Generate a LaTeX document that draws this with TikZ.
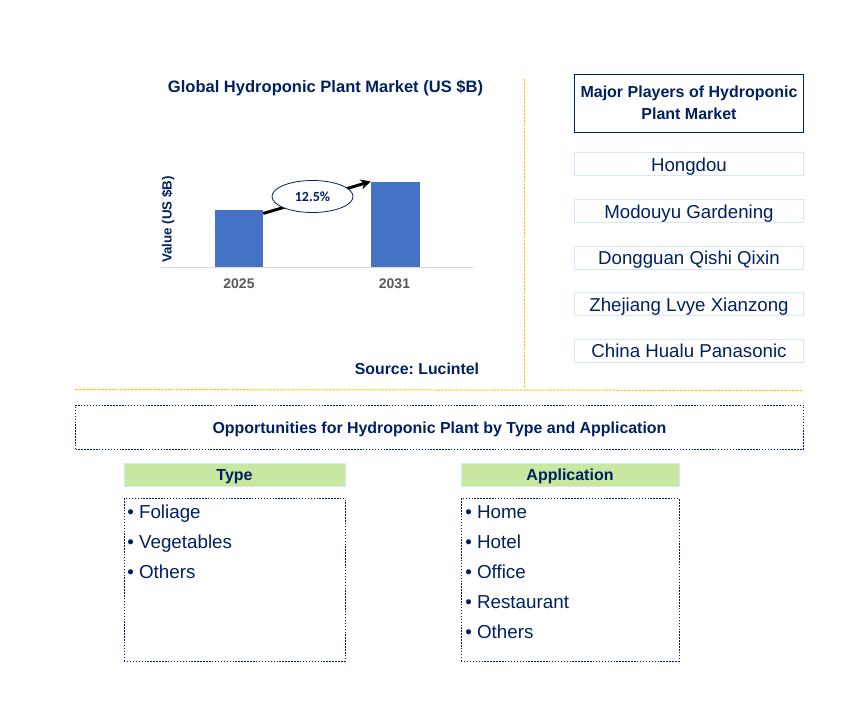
\documentclass[tikz,border=0pt]{standalone}
\usepackage{fontspec}
\setmainfont{Liberation Sans}
\newfontfamily\ratefont{Carlito}
\usetikzlibrary{shapes.geometric,arrows.meta}
\definecolor{navy}{RGB}{0,32,96}
\definecolor{barblue}{RGB}{68,114,196}
\definecolor{paleblue}{RGB}{210,232,242}
\definecolor{palegreen}{RGB}{200,231,161}
\definecolor{goldline}{RGB}{255,192,0}
\definecolor{axisgrey}{RGB}{217,217,217}
\definecolor{yeargrey}{RGB}{89,89,89}
\tikzset{
  barbox/.style={fill=barblue,inner sep=0pt,minimum width=#1*0.75pt,anchor=south},
  playerbox/.style={draw=paleblue,line width=0.75pt,minimum width=171.75pt,minimum height=17.25pt,inner sep=0pt,text height=10.8pt,text depth=0pt,text=navy,font=\fontsize{14}{15}\selectfont},
  headbox/.style={fill=palegreen,draw=paleblue,line width=0.75pt,minimum height=17.25pt,inner sep=0pt,text height=7.6pt,text depth=0pt,text=navy,font=\fontsize{12}{13}\selectfont\bfseries},
  listbox/.style={draw=navy,dash pattern=on 1.1pt off 1.1pt,line width=0.75pt,minimum height=122pt,inner sep=0pt},
  listitem/.style={anchor=west,inner sep=0pt,text height=10pt,text depth=0pt,text=navy,font=\fontsize{14.1}{15}\selectfont},
  goldrule/.style={draw=goldline,dash pattern=on 2pt off 0.8pt,line width=0.75pt},
}
\begin{document}
\frenchspacing
\begin{tikzpicture}[x=0.75pt,y=-0.75pt]
\useasboundingbox (0,0) rectangle (868,722);
% market chart
\node[text=navy,font=\fontsize{12.4}{14}\selectfont\bfseries] (charttitle) at (325.5,88.5) {Global Hydroponic Plant Market (US \$B)};
\coordinate (axisleft) at (161,267.5);
\coordinate (axisright) at (474,267.5);
\draw[axisgrey,line width=0.75pt] (axisleft) -- (axisright);
\node[barbox=48,minimum height=42.75pt] (bar2025) at (239,267) {};
\node[barbox=49,minimum height=63.75pt] (bar2031) at (395.5,267) {};
\node[text=yeargrey,font=\fontsize{10.5}{12}\selectfont\bfseries] (year2025) at (239,283.5) {2025};
\node[text=yeargrey,font=\fontsize{10.5}{12}\selectfont\bfseries] (year2031) at (394.5,283.5) {2031};
\node[rotate=90,text=navy,font=\fontsize{10}{12}\selectfont\bfseries] (valuelabel) at (168,219.5) {Value (US \$B)};
\draw[-{Stealth[length=7.5pt,width=7.5pt]},line width=2.2pt] (bar2025.north east)++(0,4) -- (bar2031.north west);
\node[ellipse,draw=navy,fill=white,line width=0.6pt,minimum width=60.75pt,minimum height=24pt,inner sep=0pt,text=navy,font=\ratefont\fontsize{10.5}{12}\selectfont\bfseries] (rate) at (312.5,196.5) {12.5\%};
\node[text=navy,font=\fontsize{11.9}{14}\selectfont\bfseries] (source) at (417,368.5) {Source: Lucintel};
% rules
\coordinate (ruletop) at (524,79);
\coordinate (rulebottom) at (524,387);
\coordinate (ruleleft) at (75,389.5);
\coordinate (ruleright) at (802,390.5);
\draw[goldrule] (ruletop) -- (rulebottom);
\draw[goldrule] (ruleleft) -- (ruleright);
% players
\node[draw=navy,line width=0.75pt,minimum width=171.75pt,minimum height=43.5pt,inner sep=0pt,align=center,text=navy,font=\fontsize{12}{16.5}\selectfont\bfseries] (playershead) at (689,103) {Major Players of Hydroponic\\Plant Market};
\node[playerbox] (hongdou) at (689,164) {Hongdou};
\node[playerbox] (modouyu) at (689,211) {Modouyu Gardening};
\node[playerbox] (qishi) at (689,257.5) {Dongguan Qishi Qixin};
\node[playerbox] (lvye) at (689,304) {Zhejiang Lvye Xianzong};
\node[playerbox] (hualu) at (689,350.5) {China Hualu Panasonic};
% opportunities
\node[draw=navy,dash pattern=on 1.1pt off 1.1pt,line width=0.75pt,minimum width=546pt,minimum height=33pt,inner sep=0pt,text height=9.4pt,text depth=0pt,text=navy,font=\fontsize{11.95}{14}\selectfont\bfseries] (opportunities) at (439.5,427) {Opportunities for Hydroponic Plant by Type and Application};
\node[headbox,minimum width=165.75pt] (typehead) at (234.5,475) {Type};
\node[headbox,minimum width=163.5pt] (apphead) at (570,475) {Application};
\node[listbox,minimum width=165.75pt] (typelist) at (234.5,580) {};
\node[listbox,minimum width=163.5pt] (applist) at (570,580) {};
\node[listitem] (foliage) at (127,511.5) {• Foliage};
\node[listitem] (vegetables) at (127,541.5) {• Vegetables};
\node[listitem] (othersa) at (127,571.5) {• Others};
\node[listitem] (home) at (465,511.5) {• Home};
\node[listitem] (hotel) at (465,541.5) {• Hotel};
\node[listitem] (office) at (465,571.5) {• Office};
\node[listitem] (restaurant) at (465,601.5) {• Restaurant};
\node[listitem] (othersb) at (465,631.5) {• Others};
\end{tikzpicture}
\end{document}
